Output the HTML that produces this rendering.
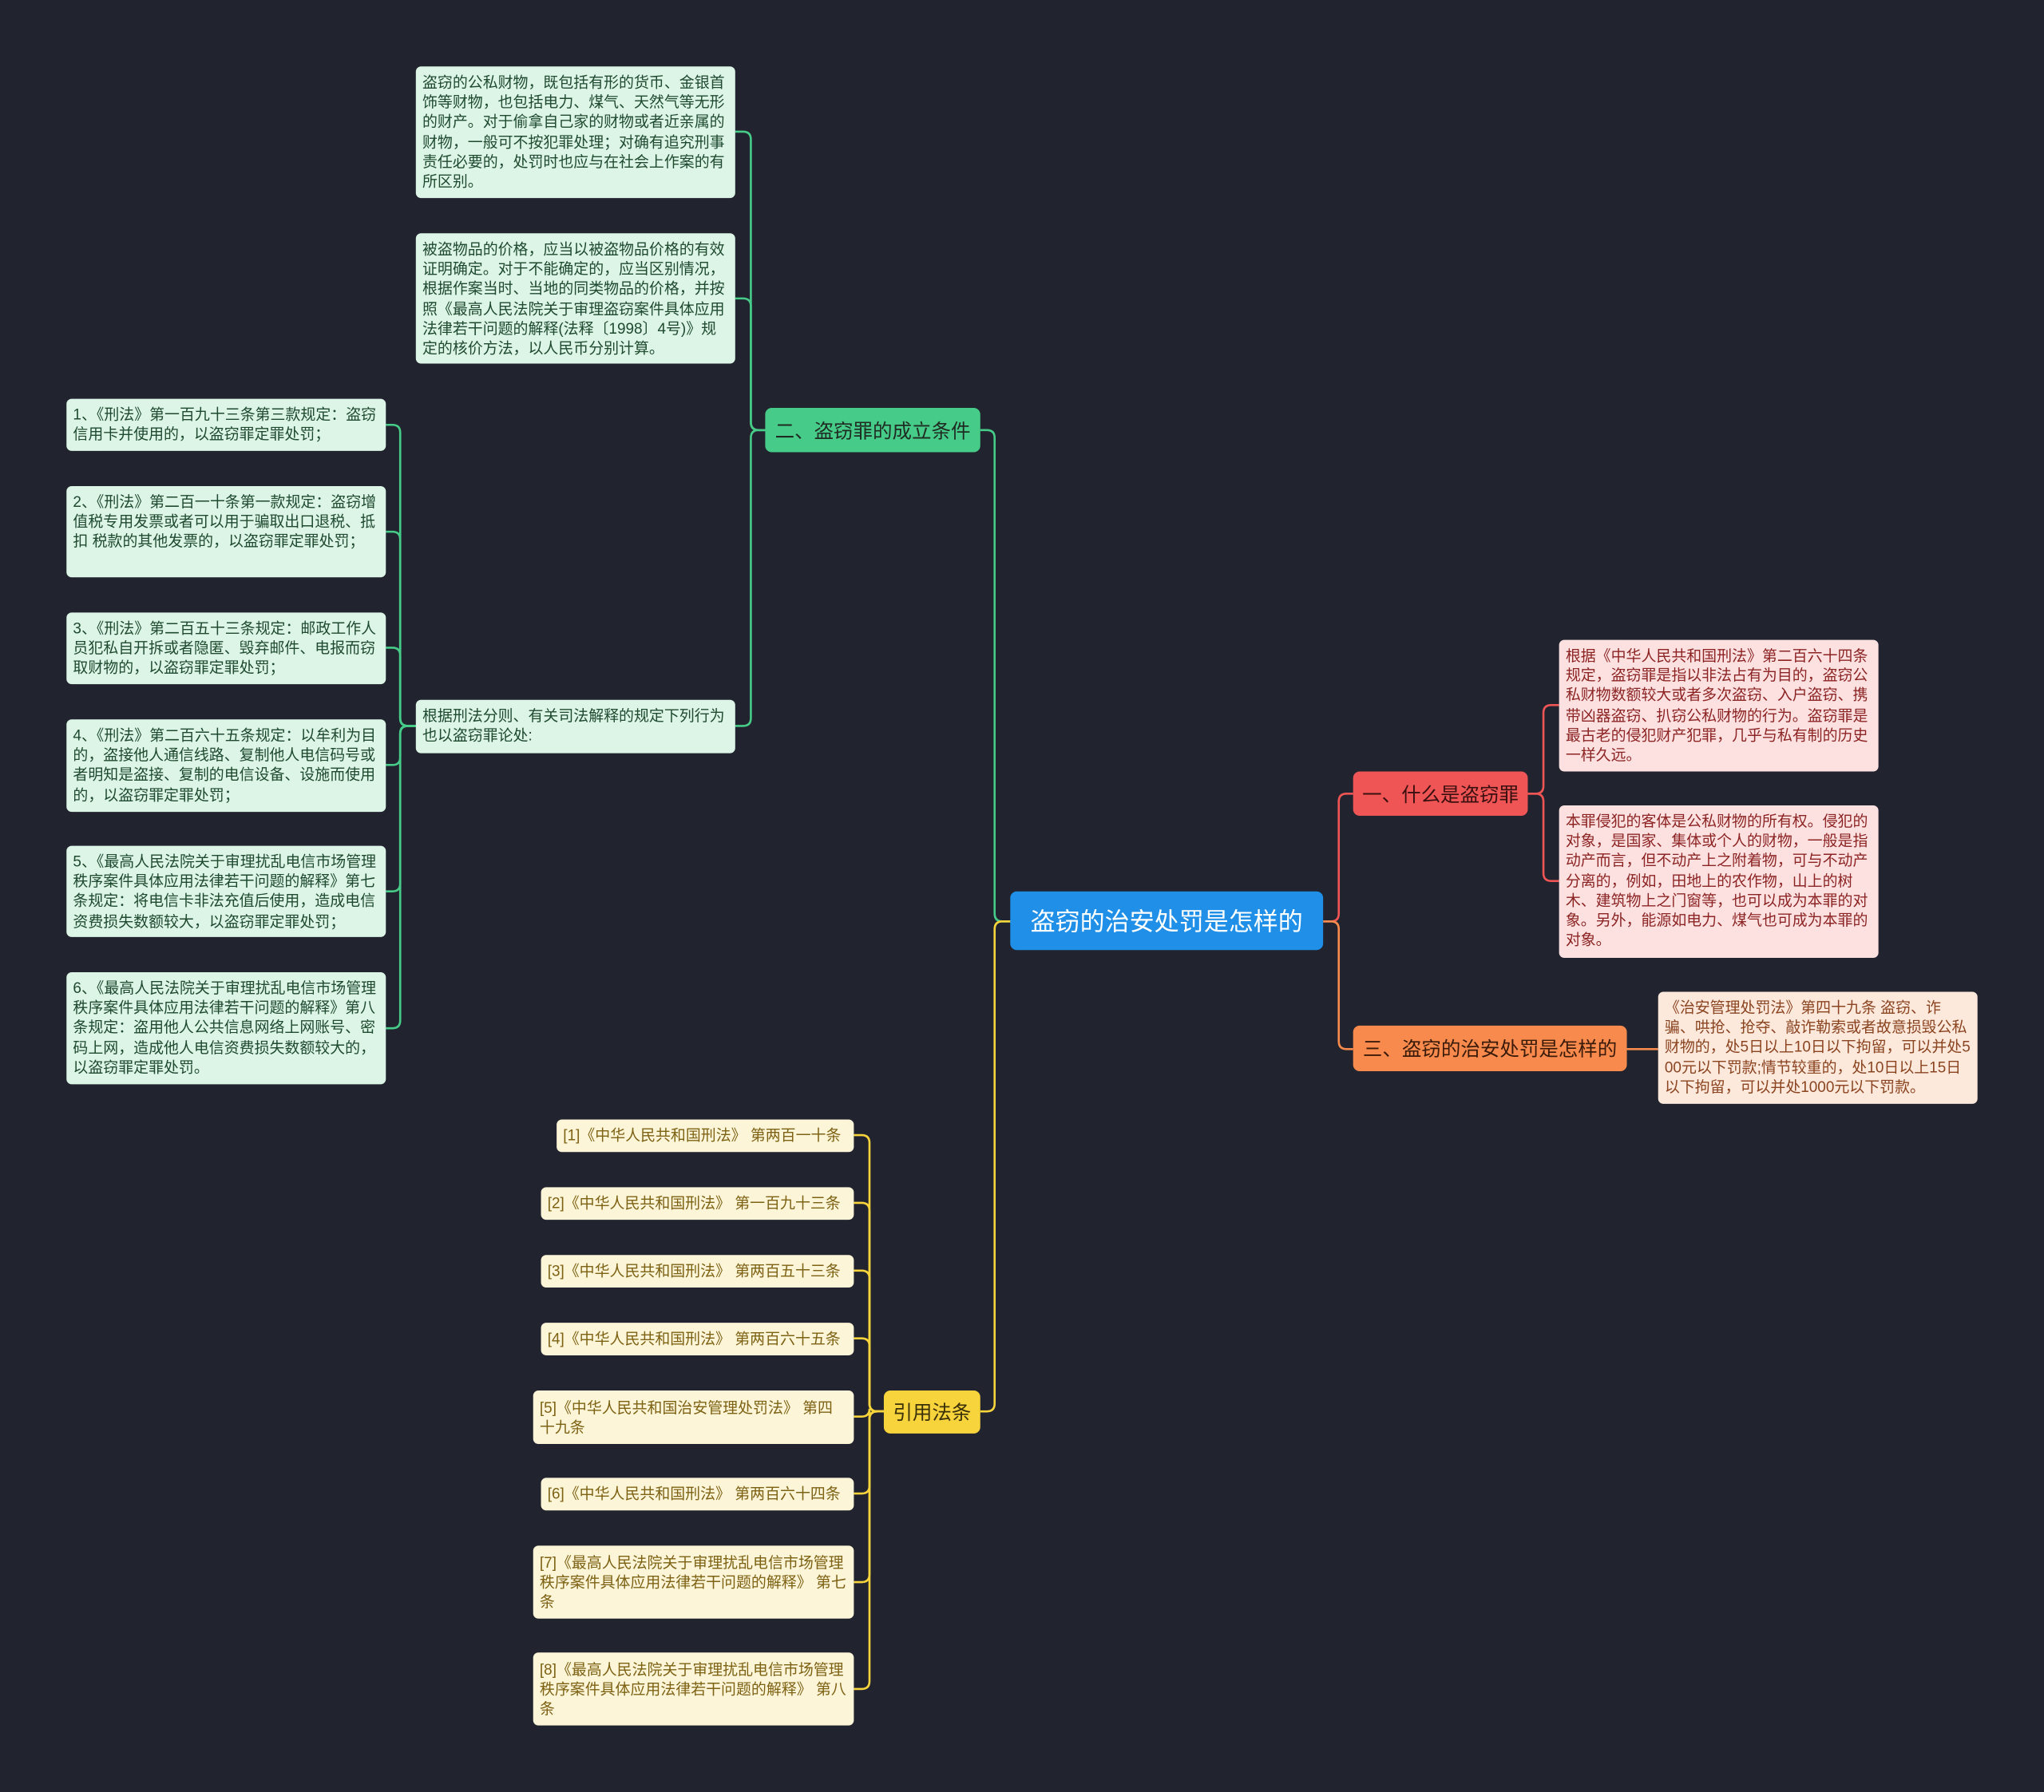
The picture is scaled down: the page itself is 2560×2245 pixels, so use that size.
<!DOCTYPE html>
<html><head><meta charset="utf-8">
<style>
html,body{margin:0;padding:0;background:#21242f;width:2560px;height:2245px;overflow:hidden}
#w{position:absolute;left:0;top:0;width:1568px;height:1375px;transform:scale(1.63265);transform-origin:0 0;font-family:"Liberation Sans","Noto Sans CJK SC",sans-serif}
.n{position:absolute;box-sizing:border-box;border-radius:4px;font-size:11.6px;line-height:15.2px;padding:5px 5px;word-break:break-all}
.g{background:#dcf5e6;color:#1f4a30}
.p{background:#fde1e1;color:#8c2424}
.o{background:#fde8dc;color:#8a4420}
.y{background:#fdf5d8;color:#7d6214;padding:6px 5px}
.b{position:absolute;box-sizing:border-box;border-radius:5px;font-size:15px;color:#1f2a22;display:flex;align-items:center;justify-content:center;white-space:nowrap}
svg{position:absolute;left:0;top:0}
</style></head><body><div id="w">
<svg id="s" width="1568" height="1375"></svg>

<div class="b" style="left:775px;top:684px;width:240px;height:45px;background:#1f8fe8;color:#fff;font-size:19px">盗窃的治安处罚是怎样的</div>
<div class="b" style="left:1038px;top:592px;width:134px;height:34px;background:#f05555;color:#3a0f0f">一、什么是盗窃罪</div>
<div class="b" style="left:1038px;top:787px;width:210px;height:35px;background:#f78a4c;color:#3a1a08">三、盗窃的治安处罚是怎样的</div>
<div class="b" style="left:587px;top:313px;width:165px;height:34px;background:#46cc88">二、盗窃罪的成立条件</div>
<div class="b" style="left:678px;top:1067px;width:74px;height:33px;background:#f7d33c;color:#3a3008">引用法条</div>

<div class="n p" style="left:1196px;top:491px;width:245px;height:101px">根据《中华人民共和国刑法》第二百六十四条规定，盗窃罪是指以非法占有为目的，盗窃公私财物数额较大或者多次盗窃、入户盗窃、携带凶器盗窃、扒窃公私财物的行为。盗窃罪是最古老的侵犯财产犯罪，几乎与私有制的历史一样久远。</div>
<div class="n p" style="left:1196px;top:618px;width:245px;height:117px">本罪侵犯的客体是公私财物的所有权。侵犯的对象，是国家、集体或个人的财物，一般是指动产而言，但不动产上之附着物，可与不动产分离的，例如，田地上的农作物，山上的树木、建筑物上之门窗等，也可以成为本罪的对象。另外，能源如电力、煤气也可成为本罪的对象。</div>
<div class="n o" style="left:1272px;top:761px;width:245px;height:86px">《治安管理处罚法》第四十九条 盗窃、诈骗、哄抢、抢夺、敲诈勒索或者故意损毁公私财物的，处5日以上10日以下拘留，可以并处500元以下罚款;情节较重的，处10日以上15日以下拘留，可以并处1000元以下罚款。</div>

<div class="n g" style="left:319px;top:51px;width:245px;height:101px">盗窃的公私财物，既包括有形的货币、金银首饰等财物，也包括电力、煤气、天然气等无形的财产。对于偷拿自己家的财物或者近亲属的财物，一般可不按犯罪处理；对确有追究刑事责任必要的，处罚时也应与在社会上作案的有所区别。</div>
<div class="n g" style="left:319px;top:179px;width:245px;height:100px">被盗物品的价格，应当以被盗物品价格的有效证明确定。对于不能确定的，应当区别情况，根据作案当时、当地的同类物品的价格，并按照《最高人民法院关于审理盗窃案件具体应用法律若干问题的解释(法释〔1998〕4号)》规定的核价方法，以人民币分别计算。</div>
<div class="n g" style="left:319px;top:537px;width:245px;height:41px">根据刑法分则、有关司法解释的规定下列行为也以盗窃罪论处:</div>
<div class="n g" style="left:51px;top:306px;width:245px;height:40px">1、《刑法》第一百九十三条第三款规定：盗窃信用卡并使用的，以盗窃罪定罪处罚；</div>
<div class="n g" style="left:51px;top:373px;width:245px;height:70px">2、《刑法》第二百一十条第一款规定：盗窃增值税专用发票或者可以用于骗取出口退税、抵扣 税款的其他发票的，以盗窃罪定罪处罚；</div>
<div class="n g" style="left:51px;top:470px;width:245px;height:55px">3、《刑法》第二百五十三条规定：邮政工作人员犯私自开拆或者隐匿、毁弃邮件、电报而窃取财物的，以盗窃罪定罪处罚；</div>
<div class="n g" style="left:51px;top:552px;width:245px;height:71px">4、《刑法》第二百六十五条规定：以牟利为目的，盗接他人通信线路、复制他人电信码号或者明知是盗接、复制的电信设备、设施而使用的，以盗窃罪定罪处罚；</div>
<div class="n g" style="left:51px;top:649px;width:245px;height:70px">5、《最高人民法院关于审理扰乱电信市场管理秩序案件具体应用法律若干问题的解释》第七条规定：将电信卡非法充值后使用，造成电信资费损失数额较大，以盗窃罪定罪处罚；</div>
<div class="n g" style="left:51px;top:746px;width:245px;height:86px">6、《最高人民法院关于审理扰乱电信市场管理秩序案件具体应用法律若干问题的解释》第八条规定：盗用他人公共信息网络上网账号、密码上网，造成他人电信资费损失数额较大的，以盗窃罪定罪处罚。</div>

<div class="n y" style="left:427px;top:859px;width:228px;height:25px;padding-top:5px">[1]《中华人民共和国刑法》 第两百一十条</div>
<div class="n y" style="left:415px;top:911px;width:240px;height:25px;padding-top:5px">[2]《中华人民共和国刑法》 第一百九十三条</div>
<div class="n y" style="left:415px;top:963px;width:240px;height:25px;padding-top:5px">[3]《中华人民共和国刑法》 第两百五十三条</div>
<div class="n y" style="left:415px;top:1015px;width:240px;height:25px;padding-top:5px">[4]《中华人民共和国刑法》 第两百六十五条</div>
<div class="n y" style="left:409px;top:1067px;width:246px;height:41px">[5]《中华人民共和国治安管理处罚法》 第四十九条</div>
<div class="n y" style="left:415px;top:1134px;width:240px;height:25px;padding-top:5px">[6]《中华人民共和国刑法》 第两百六十四条</div>
<div class="n y" style="left:409px;top:1186px;width:246px;height:56px">[7]《最高人民法院关于审理扰乱电信市场管理秩序案件具体应用法律若干问题的解释》 第七条</div>
<div class="n y" style="left:409px;top:1268px;width:246px;height:56px">[8]《最高人民法院关于审理扰乱电信市场管理秩序案件具体应用法律若干问题的解释》 第八条</div>
</div>
<script>
var s=document.getElementById('s'),h='';
function c(x1,y1,xv,x2,y2,col){var r=6,d;
 var dy=y2-y1;if(Math.abs(dy)<1){d='M'+x1+' '+y1+'H'+x2;}else{
 var sx=Math.sign(xv-x1),sy=Math.sign(dy),sx2=Math.sign(x2-xv);
 d='M'+x1+' '+y1+'H'+(xv-sx*r)+'Q'+xv+' '+y1+' '+xv+' '+(y1+sy*r)+'V'+(y2-sy*r)+'Q'+xv+' '+y2+' '+(xv+sx2*r)+' '+y2+'H'+x2;}
 h+='<path d="'+d+'" fill="none" stroke="'+col+'" stroke-width="1.6"/>';}
var G='#46cc88',Y='#f7d33c',R='#f05555',O='#f78a4c';
c(775,707,763,752,330,G);c(775,707,763,752,1083,Y);
c(1015,707,1027,1038,609,R);c(1015,707,1027,1038,805,O);
c(1172,609,1184,1196,541,R);c(1172,609,1184,1196,676,R);
c(1248,805,1260,1272,805,O);
[101,229,557].forEach(function(y){c(587,330,576,564,y,G)});
[326,408,497,587,684,789].forEach(function(y){c(319,557,307,296,y,G)});
[871,923,975,1027,1087,1146,1214,1296].forEach(function(y){c(678,1083,667,655,y,Y)});
s.innerHTML=h;
</script>
</body></html>
